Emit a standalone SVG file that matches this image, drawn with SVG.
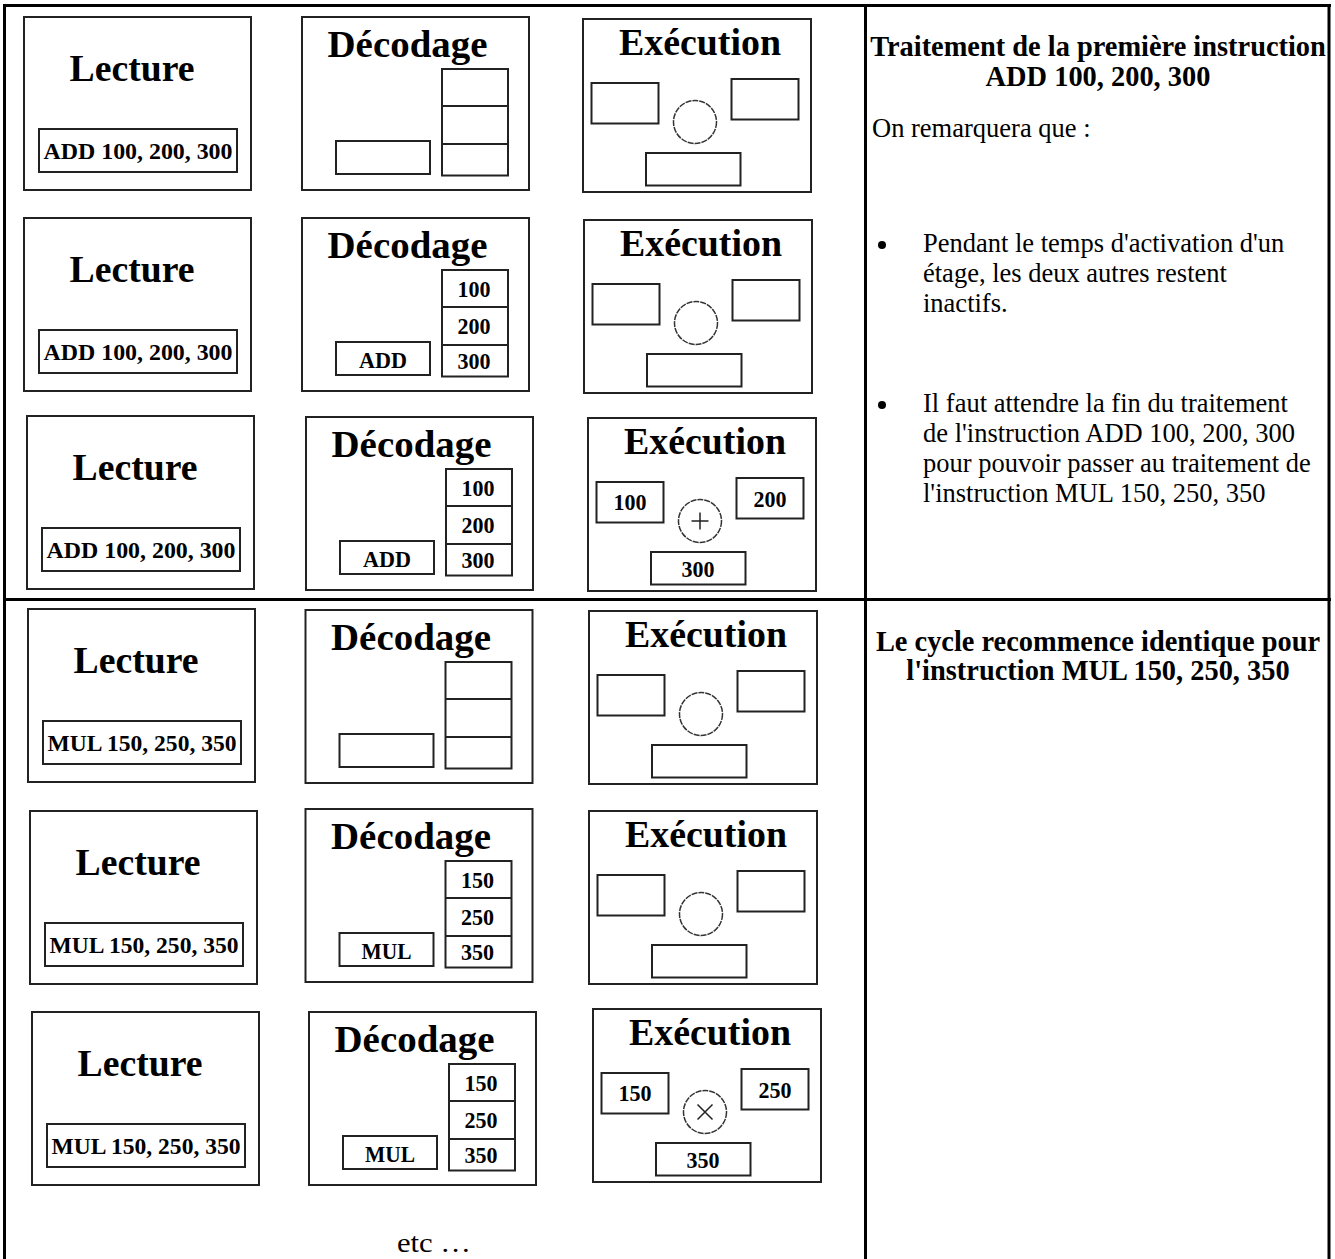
<svg xmlns="http://www.w3.org/2000/svg" width="1335" height="1259" viewBox="0 0 1335 1259">
<style>
.bg{fill:#fff}
.box{fill:#fff;stroke:#222;stroke-width:2}
.ln{stroke:#222;stroke-width:2;fill:none}
.grid{stroke:#000;stroke-width:3;fill:none}
.title{font-family:"Liberation Serif","Times New Roman",serif;font-weight:bold;font-size:37px;text-anchor:middle;fill:#000}
.lbl{font-family:"Liberation Serif","Times New Roman",serif;font-weight:bold;font-size:24px;text-anchor:middle;fill:#000}
.op{fill:none;stroke:#333;stroke-width:1.5;stroke-dasharray:6 1}
.sign{fill:none;stroke:#222;stroke-width:1.5}
.txt{font-family:"Liberation Serif","Times New Roman",serif;font-size:26.5px;fill:#000}
.btxt{font-family:"Liberation Serif","Times New Roman",serif;font-size:28.4px;font-weight:bold;text-anchor:middle;fill:#000}
</style>
<rect class="bg" x="0" y="0" width="1335" height="1259"/>

<g id="table-grid">
<line class="grid" x1="4.5" y1="4" x2="4.5" y2="1259"/>
<line class="grid" x1="3" y1="5.5" x2="1331" y2="5.5"/>
<line class="grid" x1="1329" y1="4" x2="1329" y2="1259"/>
<line class="grid" x1="865.5" y1="5" x2="865.5" y2="1259"/>
<line class="grid" x1="3" y1="599.5" x2="1331" y2="599.5"/>
</g>

<g id="connectors"></g>

<!-- Row 1 -->
<g id="r1-lecture" transform="translate(24,17)">
<rect class="box" width="227" height="173"/>
<text class="title" x="108" y="64" textLength="125" lengthAdjust="spacingAndGlyphs">Lecture</text>
<rect class="box" x="15" y="112" width="198" height="43"/>
<text class="lbl" x="114" y="142" textLength="189" lengthAdjust="spacingAndGlyphs">ADD 100, 200, 300</text>
</g>
<g id="r1-decodage" transform="translate(302,17)">
<rect class="box" width="227" height="173"/>
<text class="title" x="105.5" y="40" textLength="160" lengthAdjust="spacingAndGlyphs">Décodage</text>
<rect class="box" x="140" y="52" width="66" height="106.5"/>
<path class="ln" d="M140 89H206M140 127H206"/>
<rect class="box" x="34" y="124" width="94" height="33"/>
</g>
<g id="r1-execution" transform="translate(583,19)">
<rect class="box" width="228" height="173"/>
<text class="title" x="117" y="36" textLength="162" lengthAdjust="spacingAndGlyphs">Exécution</text>
<rect class="box" x="8.5" y="64" width="67" height="40.5"/>
<rect class="box" x="148.5" y="60" width="67" height="40.5"/>
<circle class="op" cx="112" cy="103" r="21.5"/>
<rect class="box" x="63" y="134" width="94.5" height="32.5"/>
</g>

<!-- Row 2 -->
<g id="r2-lecture" transform="translate(24,218)">
<rect class="box" width="227" height="173"/>
<text class="title" x="108" y="64" textLength="125" lengthAdjust="spacingAndGlyphs">Lecture</text>
<rect class="box" x="15" y="112" width="198" height="43"/>
<text class="lbl" x="114" y="142" textLength="189" lengthAdjust="spacingAndGlyphs">ADD 100, 200, 300</text>
</g>
<g id="r2-decodage" transform="translate(302,218)">
<rect class="box" width="227" height="173"/>
<text class="title" x="105.5" y="40" textLength="160" lengthAdjust="spacingAndGlyphs">Décodage</text>
<rect class="box" x="140" y="52" width="66" height="106.5"/>
<path class="ln" d="M140 89H206M140 127H206"/>
<rect class="box" x="34" y="124" width="94" height="33"/>
<text class="lbl" x="172" y="79" textLength="33" lengthAdjust="spacingAndGlyphs">100</text>
<text class="lbl" x="172" y="116" textLength="33" lengthAdjust="spacingAndGlyphs">200</text>
<text class="lbl" x="172" y="151" textLength="33" lengthAdjust="spacingAndGlyphs">300</text>
<text class="lbl" x="81" y="150" textLength="48" lengthAdjust="spacingAndGlyphs">ADD</text>
</g>
<g id="r2-execution" transform="translate(584,220)">
<rect class="box" width="228" height="173"/>
<text class="title" x="117" y="36" textLength="162" lengthAdjust="spacingAndGlyphs">Exécution</text>
<rect class="box" x="8.5" y="64" width="67" height="40.5"/>
<rect class="box" x="148.5" y="60" width="67" height="40.5"/>
<circle class="op" cx="112" cy="103" r="21.5"/>
<rect class="box" x="63" y="134" width="94.5" height="32.5"/>
</g>

<!-- Row 3 -->
<g id="r3-lecture" transform="translate(27,416)">
<rect class="box" width="227" height="173"/>
<text class="title" x="108" y="64" textLength="125" lengthAdjust="spacingAndGlyphs">Lecture</text>
<rect class="box" x="15" y="112" width="198" height="43"/>
<text class="lbl" x="114" y="142" textLength="189" lengthAdjust="spacingAndGlyphs">ADD 100, 200, 300</text>
</g>
<g id="r3-decodage" transform="translate(306,417)">
<rect class="box" width="227" height="173"/>
<text class="title" x="105.5" y="40" textLength="160" lengthAdjust="spacingAndGlyphs">Décodage</text>
<rect class="box" x="140" y="52" width="66" height="106.5"/>
<path class="ln" d="M140 89H206M140 127H206"/>
<rect class="box" x="34" y="124" width="94" height="33"/>
<text class="lbl" x="172" y="79" textLength="33" lengthAdjust="spacingAndGlyphs">100</text>
<text class="lbl" x="172" y="116" textLength="33" lengthAdjust="spacingAndGlyphs">200</text>
<text class="lbl" x="172" y="151" textLength="33" lengthAdjust="spacingAndGlyphs">300</text>
<text class="lbl" x="81" y="150" textLength="48" lengthAdjust="spacingAndGlyphs">ADD</text>
</g>
<g id="r3-execution" transform="translate(588,418)">
<rect class="box" width="228" height="173"/>
<text class="title" x="117" y="36" textLength="162" lengthAdjust="spacingAndGlyphs">Exécution</text>
<rect class="box" x="8.5" y="64" width="67" height="40.5"/>
<rect class="box" x="148.5" y="60" width="67" height="40.5"/>
<circle class="op" cx="112" cy="103" r="21.5"/>
<path class="sign" d="M103.5 103H120.5M112 94.5V111.5"/>
<rect class="box" x="63" y="134" width="94.5" height="32.5"/>
<text class="lbl" x="42" y="92" textLength="33" lengthAdjust="spacingAndGlyphs">100</text>
<text class="lbl" x="182" y="88.5" textLength="33" lengthAdjust="spacingAndGlyphs">200</text>
<text class="lbl" x="110" y="158.5" textLength="33" lengthAdjust="spacingAndGlyphs">300</text>
</g>

<!-- Row 4 -->
<g id="r4-lecture" transform="translate(28,609)">
<rect class="box" width="227" height="173"/>
<text class="title" x="108" y="64" textLength="125" lengthAdjust="spacingAndGlyphs">Lecture</text>
<rect class="box" x="15" y="112" width="198" height="43"/>
<text class="lbl" x="114" y="142" textLength="189" lengthAdjust="spacingAndGlyphs">MUL 150, 250, 350</text>
</g>
<g id="r4-decodage" transform="translate(305.5,610)">
<rect class="box" width="227" height="173"/>
<text class="title" x="105.5" y="40" textLength="160" lengthAdjust="spacingAndGlyphs">Décodage</text>
<rect class="box" x="140" y="52" width="66" height="106.5"/>
<path class="ln" d="M140 89H206M140 127H206"/>
<rect class="box" x="34" y="124" width="94" height="33"/>
</g>
<g id="r4-execution" transform="translate(589,611)">
<rect class="box" width="228" height="173"/>
<text class="title" x="117" y="36" textLength="162" lengthAdjust="spacingAndGlyphs">Exécution</text>
<rect class="box" x="8.5" y="64" width="67" height="40.5"/>
<rect class="box" x="148.5" y="60" width="67" height="40.5"/>
<circle class="op" cx="112" cy="103" r="21.5"/>
<rect class="box" x="63" y="134" width="94.5" height="32.5"/>
</g>

<!-- Row 5 -->
<g id="r5-lecture" transform="translate(30,811)">
<rect class="box" width="227" height="173"/>
<text class="title" x="108" y="64" textLength="125" lengthAdjust="spacingAndGlyphs">Lecture</text>
<rect class="box" x="15" y="112" width="198" height="43"/>
<text class="lbl" x="114" y="142" textLength="189" lengthAdjust="spacingAndGlyphs">MUL 150, 250, 350</text>
</g>
<g id="r5-decodage" transform="translate(305.5,809)">
<rect class="box" width="227" height="173"/>
<text class="title" x="105.5" y="40" textLength="160" lengthAdjust="spacingAndGlyphs">Décodage</text>
<rect class="box" x="140" y="52" width="66" height="106.5"/>
<path class="ln" d="M140 89H206M140 127H206"/>
<rect class="box" x="34" y="124" width="94" height="33"/>
<text class="lbl" x="172" y="79" textLength="33" lengthAdjust="spacingAndGlyphs">150</text>
<text class="lbl" x="172" y="116" textLength="33" lengthAdjust="spacingAndGlyphs">250</text>
<text class="lbl" x="172" y="151" textLength="33" lengthAdjust="spacingAndGlyphs">350</text>
<text class="lbl" x="81" y="150" textLength="50" lengthAdjust="spacingAndGlyphs">MUL</text>
</g>
<g id="r5-execution" transform="translate(589,811)">
<rect class="box" width="228" height="173"/>
<text class="title" x="117" y="36" textLength="162" lengthAdjust="spacingAndGlyphs">Exécution</text>
<rect class="box" x="8.5" y="64" width="67" height="40.5"/>
<rect class="box" x="148.5" y="60" width="67" height="40.5"/>
<circle class="op" cx="112" cy="103" r="21.5"/>
<rect class="box" x="63" y="134" width="94.5" height="32.5"/>
</g>

<!-- Row 6 -->
<g id="r6-lecture" transform="translate(32,1012)">
<rect class="box" width="227" height="173"/>
<text class="title" x="108" y="64" textLength="125" lengthAdjust="spacingAndGlyphs">Lecture</text>
<rect class="box" x="15" y="112" width="198" height="43"/>
<text class="lbl" x="114" y="142" textLength="189" lengthAdjust="spacingAndGlyphs">MUL 150, 250, 350</text>
</g>
<g id="r6-decodage" transform="translate(309,1012)">
<rect class="box" width="227" height="173"/>
<text class="title" x="105.5" y="40" textLength="160" lengthAdjust="spacingAndGlyphs">Décodage</text>
<rect class="box" x="140" y="52" width="66" height="106.5"/>
<path class="ln" d="M140 89H206M140 127H206"/>
<rect class="box" x="34" y="124" width="94" height="33"/>
<text class="lbl" x="172" y="79" textLength="33" lengthAdjust="spacingAndGlyphs">150</text>
<text class="lbl" x="172" y="116" textLength="33" lengthAdjust="spacingAndGlyphs">250</text>
<text class="lbl" x="172" y="151" textLength="33" lengthAdjust="spacingAndGlyphs">350</text>
<text class="lbl" x="81" y="150" textLength="50" lengthAdjust="spacingAndGlyphs">MUL</text>
</g>
<g id="r6-execution" transform="translate(593,1009)">
<rect class="box" width="228" height="173"/>
<text class="title" x="117" y="36" textLength="162" lengthAdjust="spacingAndGlyphs">Exécution</text>
<rect class="box" x="8.5" y="64" width="67" height="40.5"/>
<rect class="box" x="148.5" y="60" width="67" height="40.5"/>
<circle class="op" cx="112" cy="103" r="21.5"/>
<path class="sign" d="M104.5 95.5L119.5 110.5M119.5 95.5L104.5 110.5"/>
<rect class="box" x="63" y="134" width="94.5" height="32.5"/>
<text class="lbl" x="42" y="92" textLength="33" lengthAdjust="spacingAndGlyphs">150</text>
<text class="lbl" x="182" y="88.5" textLength="33" lengthAdjust="spacingAndGlyphs">250</text>
<text class="lbl" x="110" y="158.5" textLength="33" lengthAdjust="spacingAndGlyphs">350</text>
</g>

<g id="etc">
<text class="txt" x="434" y="1252" text-anchor="middle" textLength="74" lengthAdjust="spacingAndGlyphs">etc …</text>
</g>

<!-- Right column -->
<g id="notes-1">
<text class="btxt" x="1098" y="56">Traitement de la première instruction</text>
<text class="btxt" x="1098" y="86">ADD 100, 200, 300</text>
<text class="txt" x="872" y="137">On remarquera que :</text>
<circle cx="882" cy="245" r="4" fill="#000"/>
<text class="txt" x="923" y="252">Pendant le temps d'activation d'un</text>
<text class="txt" x="923" y="282">étage, les deux autres restent</text>
<text class="txt" x="923" y="312">inactifs.</text>
<circle cx="882" cy="405" r="4" fill="#000"/>
<text class="txt" x="923" y="412">Il faut attendre la fin du traitement</text>
<text class="txt" x="923" y="442">de l'instruction ADD 100, 200, 300</text>
<text class="txt" x="923" y="472">pour pouvoir passer au traitement de</text>
<text class="txt" x="923" y="502">l'instruction MUL 150, 250, 350</text>
</g>
<g id="notes-2">
<text class="btxt" x="1098" y="651">Le cycle recommence identique pour</text>
<text class="btxt" x="1098" y="680">l'instruction MUL 150, 250, 350</text>
</g>
</svg>
